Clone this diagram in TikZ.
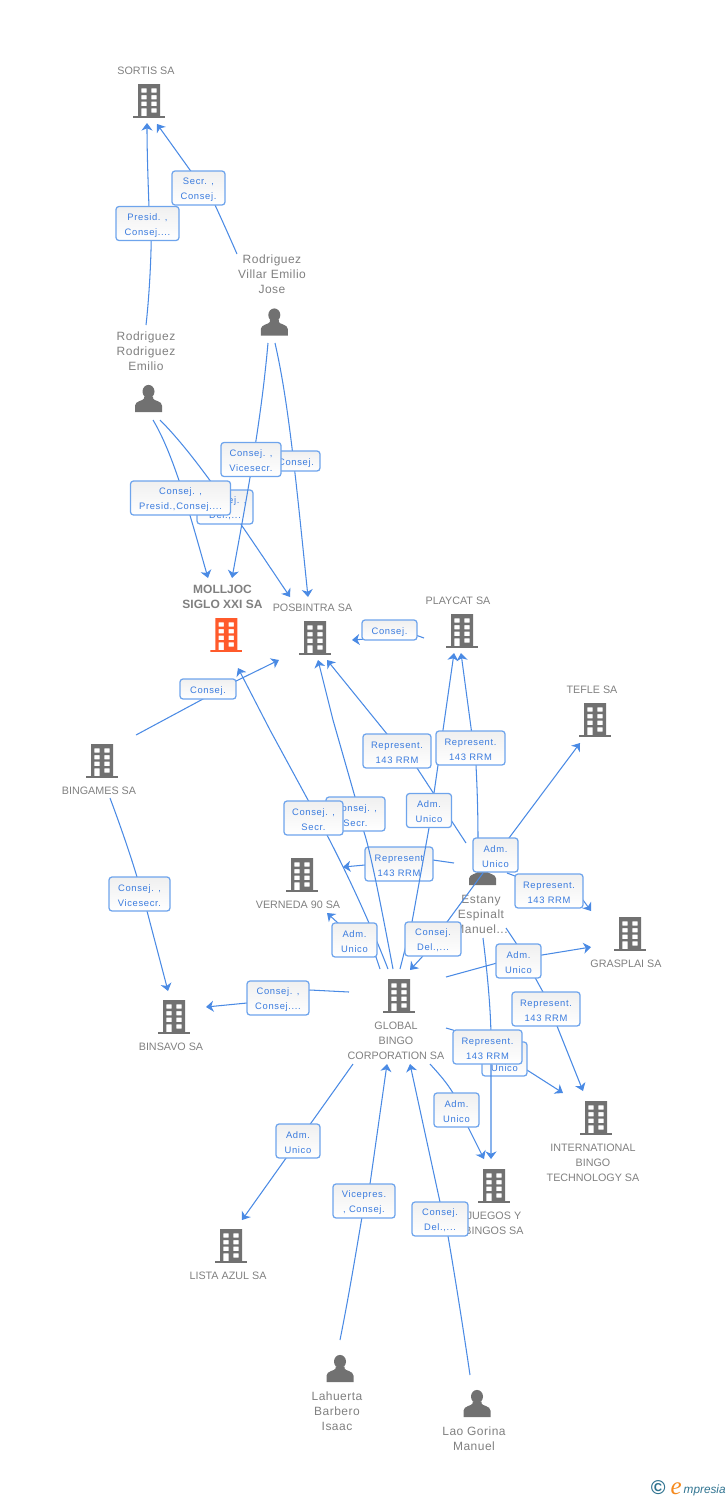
\documentclass[tikz,border=0pt]{standalone}
\usepackage{fontspec}
\setmainfont{Liberation Sans}
\newfontfamily\lblfont[LetterSpace=7]{Liberation Sans}
\newfontfamily\perfont[LetterSpace=4]{Liberation Sans}
\newfontfamily\logofont{Liberation Serif}
\usetikzlibrary{arrows.meta}
\definecolor{icongray}{HTML}{717171}
\definecolor{txtgray}{HTML}{808080}
\definecolor{hiorange}{HTML}{FF5A2B}
\definecolor{connblue}{HTML}{4A8AE4}
\definecolor{boxblue}{HTML}{6EA4EC}
\definecolor{lbltxt}{HTML}{3A7BDE}
\definecolor{logoteal}{HTML}{2F7390}
\definecolor{logoorange}{HTML}{F58A1F}
\tikzset{
  x=1pt,y=-1pt,
  conn/.style={draw=connblue,line width=1.05pt,-{Stealth[length=7.5pt,width=11pt,inset=2.2pt]}},
  lblbase/.style={draw=boxblue,line width=1.25pt,rounded corners=3pt,top color=black!6,bottom color=white,
    inner sep=0pt,align=center,text=lbltxt,
    font=\lblfont\fontsize{9.4}{15}\selectfont},
  lbl/.style={lblbase,minimum height=34pt,execute at begin node={\rule{0pt}{25pt}}},
  lblone/.style={lblbase,minimum height=20pt,execute at begin node={\rule{0pt}{10pt}}},
  comp/.style={inner sep=0pt,align=center,text=txtgray,font=\fontsize{10.75}{15}\selectfont},
  pers/.style={inner sep=0pt,align=center,text=txtgray,font=\perfont\fontsize{12}{15}\selectfont},
  bldg/.style={minimum width=32pt,minimum height=34pt,inner sep=0pt,path picture={
    \fill[#1,even odd rule] (-11,-17) rectangle (11,15.5)
      (-7.6,-12.7) rectangle (-2.4,-8.3) (2.4,-12.7) rectangle (7.6,-8.3)
      (-7.6,-6) rectangle (-2.4,-1.7) (2.4,-6) rectangle (7.6,-1.7)
      (-7.6,0.7) rectangle (-2.4,5) (2.4,0.7) rectangle (7.6,5)
      (-7.6,7.3) rectangle (-2.4,15.5) (2.4,7.3) rectangle (7.6,11.7);
    \fill[#1] (-16,15.3) rectangle (16,17);}},
  persn/.style={minimum width=28pt,minimum height=28pt,inner sep=0pt,path picture={
    \fill[icongray] (0,-7) ellipse [x radius=6,y radius=6.6];
    \fill[icongray] (-4.5,-2) -- (-4.5,0) .. controls (-5,2.2) and (-13.5,2.5) .. (-13.5,7)
      -- (-13.5,13.5) -- (13.5,13.5) -- (13.5,7)
      .. controls (13.5,2.5) and (5,2.2) .. (4.5,0) -- (4.5,-2) -- cycle;}}
}
\begin{document}
\begin{tikzpicture}
\useasboundingbox (0,0) rectangle (728,1500);
% ---- entities
\node[bldg=icongray] (sortis) at (149,101) {};
\node[comp] (sortisT) at (146,70.5) {SORTIS SA};
\node[persn] (jose) at (274.3,322) {};
\node[pers] (joseT) at (272,274) {Rodriguez\\Villar Emilio\\Jose};
\node[persn] (emilio) at (148.5,398.5) {};
\node[pers] (emilioT) at (146,351) {Rodriguez\\Rodriguez\\Emilio};
\node[bldg=hiorange] (molljoc) at (226.3,635) {};
\node[comp,font=\bfseries\fontsize{12}{15}\selectfont] (molljocT) at (222.5,596.5) {MOLLJOC\\SIGLO XXI SA};
\node[bldg=icongray] (posbintra) at (315,638) {};
\node[comp] (posbintraT) at (312.5,607.5) {POSBINTRA SA};
\node[bldg=icongray] (playcat) at (462,631) {};
\node[comp] (playcatT) at (458,600.5) {PLAYCAT SA};
\node[bldg=icongray] (tefle) at (595,720) {};
\node[comp] (tefleT) at (592,689.5) {TEFLE SA};
\node[bldg=icongray] (bingames) at (102,761) {};
\node[comp] (bingamesT) at (99,790.5) {BINGAMES SA};
\node[bldg=icongray] (verneda) at (302,875) {};
\node[comp] (vernedaT) at (298,904.5) {VERNEDA 90 SA};
\node[persn] (estany) at (482.6,871.5) {};
\node[pers] (estanyT) at (481,914) {Estany\\Espinalt\\Manuel...};
\node[bldg=icongray] (grasplai) at (630,934) {};
\node[comp] (grasplaiT) at (626,963.5) {GRASPLAI SA};
\node[bldg=icongray] (global) at (399,996) {};
\node[comp] (globalT) at (396,1040.5) {GLOBAL\\BINGO\\CORPORATION SA};
\node[bldg=icongray] (binsavo) at (174,1017) {};
\node[comp] (binsavoT) at (171,1046.5) {BINSAVO SA};
\node[bldg=icongray] (intl) at (596,1118) {};
\node[comp] (intlT) at (593,1162.5) {INTERNATIONAL\\BINGO\\TECHNOLOGY SA};
\node[bldg=icongray] (juegos) at (494,1186) {};
\node[comp] (juegosT) at (494,1223) {JUEGOS Y\\BINGOS SA};
\node[bldg=icongray] (lista) at (231,1246) {};
\node[comp] (listaT) at (228,1275.5) {LISTA AZUL SA};
\node[persn] (lahuerta) at (340,1368.5) {};
\node[pers] (lahuertaT) at (337,1411) {Lahuerta\\Barbero\\Isaac};
\node[persn] (lao) at (477,1403.5) {};
\node[pers] (laoT) at (474,1438.5) {Lao Gorina\\Manuel};
% ---- connector ends
\coordinate (emilioOutA) at (146,325);
\coordinate (emilioOutB) at (153,420);
\coordinate (emilioOutC) at (160,420);
\coordinate (joseOutA) at (237,254);
\coordinate (joseOutB) at (268,343);
\coordinate (joseOutC) at (275,343);
\coordinate (sortisInA) at (147,123);
\coordinate (sortisInB) at (157,124);
\coordinate (molljocInA) at (208,578);
\coordinate (molljocInB) at (232,578);
\coordinate (molljocInC) at (238,668);
\coordinate (posInA) at (290,597);
\coordinate (posInB) at (308,597);
\coordinate (posInC) at (352,640);
\coordinate (posInD) at (279,660);
\coordinate (posInE) at (318,660);
\coordinate (posInF) at (327,660);
\coordinate (playOut) at (424,638);
\coordinate (playInA) at (454,653);
\coordinate (playInB) at (461,653);
\coordinate (bingOutA) at (136,735);
\coordinate (bingOutB) at (110,798);
\coordinate (binsInA) at (168,991);
\coordinate (binsInB) at (206,1007);
\coordinate (globOutA) at (380,969);
\coordinate (globOutB) at (388,969);
\coordinate (globOutC) at (393,969);
\coordinate (globOutD) at (400,969);
\coordinate (globOutE) at (349,992);
\coordinate (globOutF) at (353,1064);
\coordinate (globOutG) at (446,977);
\coordinate (globOutH) at (446,1028);
\coordinate (globOutI) at (430,1064);
\coordinate (globInA) at (410,970);
\coordinate (globInB) at (387,1064);
\coordinate (globInC) at (410,1064);
\coordinate (estOutA) at (466,843);
\coordinate (estOutB) at (478,840);
\coordinate (estOutC) at (454,863);
\coordinate (estOutD) at (497,856);
\coordinate (estOutE) at (507,873);
\coordinate (estOutF) at (483,873);
\coordinate (estOutG) at (483,938);
\coordinate (estOutH) at (506,928);
\coordinate (vernInA) at (343,867);
\coordinate (vernInB) at (327,913);
\coordinate (tefleIn) at (580,743);
\coordinate (graspInA) at (591,911);
\coordinate (graspInB) at (591,947);
\coordinate (juegInA) at (484,1159);
\coordinate (juegInB) at (491,1159);
\coordinate (intlInA) at (563,1093);
\coordinate (intlInB) at (583,1091);
\coordinate (listaIn) at (242,1220);
\coordinate (lahOut) at (340,1340);
\coordinate (laoOut) at (470,1375);
% ---- connectors with their labels, in stacking order
\draw[conn] (emilioOutA) .. controls (150,290) and (152,240) .. (151,223) -- (149,207) .. controls (148,180) and (147,150) .. (sortisInA);
\node[lbl,minimum width=63pt] (l1) at (147.5,223.5) {Presid. ,\\Consej....};
\draw[conn] (joseOutA) .. controls (230,238) and (222,220) .. (215,205) -- (190,170) -- (sortisInB);
\node[lbl,minimum width=53pt] (l2) at (198.5,188) {Secr. ,\\Consej.};
\draw[conn] (emilioOutC) .. controls (195,455) and (235,515) .. (posInA);
\node[lbl,minimum width=56pt] (l4) at (225,507) {Consej. ,\\Del.,...};
\draw[conn] (joseOutC) .. controls (288,400) and (295,470) .. (posInB);
\node[lblone,minimum width=48pt] (l6) at (296,461) {Consej.};
\draw[conn] (emilioOutB) .. controls (174,455) and (190,515) .. (molljocInA);
\node[lbl,minimum width=100pt] (l3) at (180.5,498) {Consej. ,\\Presid.,Consej....};
\draw[conn] (joseOutB) .. controls (262,410) and (252,470) .. (molljocInB);
\node[lbl,minimum width=60pt] (l5) at (251,459.5) {Consej. ,\\Vicesecr.};
\draw[conn] (playOut) -- (417,635.5) -- (posInC);
\node[lblone,minimum width=55pt] (l7) at (389.5,630) {Consej.};
\draw[conn] (bingOutA) -- (203,699) -- (230,684) -- (posInD);
\node[lblone,minimum width=56pt] (l8) at (208,689) {Consej.};
\draw[conn] (bingOutB) .. controls (122,830) and (132,860) .. (137,877) -- (147,911) -- (binsInA);
\node[lbl,minimum width=61pt] (l9) at (139.5,894) {Consej. ,\\Vicesecr.};
\draw[conn] (estOutC) -- (433,860) -- (365,865) -- (vernInA);
\node[lbl,minimum width=68pt] (l10) at (399,864) {Represent\\143 RRM};
\draw[conn] (globOutC) .. controls (380,900) and (370,850) .. (364,832) -- (355,797) -- (333,720) -- (posInE);
\node[lbl,minimum width=59pt] (l11) at (355.5,814) {Consej. ,\\Secr.};
\draw[conn] (globOutB) .. controls (365,910) and (340,860) .. (327,835) -- (308,800) -- (270,730) -- (molljocInC);
\node[lbl,minimum width=59pt] (l12) at (313.5,818) {Consej. ,\\Secr.};
\draw[conn] (estOutA) -- (417,768) -- (387,734) -- (posInF);
\node[lbl,minimum width=68pt] (l13) at (397,751) {Represent.\\143 RRM};
\draw[conn] (globOutD) -- (412,922) -- (429,828) -- (438,765) -- (playInA);
\node[lbl,minimum width=45pt] (l14) at (429,810.5) {Adm.\\Unico};
\draw[conn] (estOutB) .. controls (478,810) and (477,785) .. (476,765) -- (470,720) -- (playInB);
\node[lbl,minimum width=69pt] (l15) at (470.5,748) {Represent.\\143 RRM};
\draw[conn] (estOutD) -- (509,838) -- (tefleIn);
\node[lbl,minimum width=45pt] (l16) at (495.5,855) {Adm.\\Unico};
\draw[conn] (estOutE) -- (515,876) -- (583,900) -- (graspInA);
\node[lbl,minimum width=68pt] (l17) at (549,891) {Represent.\\143 RRM};
\draw[conn] (globOutA) -- (376,957) -- (338,923) -- (vernInB);
\node[lbl,minimum width=45pt] (l18) at (354.5,940) {Adm.\\Unico};
\draw[conn] (estOutF) -- (447,922) -- (422,957) -- (globInA);
\node[lbl,minimum width=56pt] (l19) at (433,939) {Consej.\\Del.,...};
\draw[conn] (estOutH) -- (516,943) -- (543,992) -- (557,1026) -- (intlInB);
\node[lbl,minimum width=68pt] (l20) at (546,1009) {Represent.\\143 RRM};
\draw[conn] (globOutG) -- (497,963) -- (542,955) -- (graspInB);
\node[lbl,minimum width=45pt] (l21) at (518.5,961) {Adm.\\Unico};
\draw[conn] (globOutE) -- (310,990) -- (247,1003) -- (binsInB);
\node[lbl,minimum width=62pt] (l22) at (278,998) {Consej. ,\\Consej....};
\draw[conn] (globOutH) -- (453,1030) -- (527,1070) -- (intlInA);
\node[lbl,minimum width=45pt] (l23) at (504.5,1059) {Adm.\\Unico};
\draw[conn] (estOutG) .. controls (487,970) and (491,1010) .. (491,1040) -- (juegInB);
\node[lbl,minimum width=69pt] (l24) at (487.5,1047) {Represent.\\143 RRM};
\draw[conn] (globOutI) .. controls (440,1075) and (447,1083) .. (453,1093) -- (468,1127) -- (juegInA);
\node[lbl,minimum width=45pt] (l25) at (456.5,1110) {Adm.\\Unico};
\draw[conn] (globOutF) -- (listaIn);
\node[lbl,minimum width=44pt] (l26) at (298,1141) {Adm.\\Unico};
\draw[conn] (lahOut) .. controls (350,1290) and (358,1240) .. (362,1217) -- (370,1184) -- (globInB);
\node[lbl,minimum width=62pt] (l27) at (364,1201) {Vicepres.\\, Consej.};
\draw[conn] (laoOut) .. controls (462,1320) and (453,1265) .. (448,1236) -- (440,1202) -- (globInC);
\node[lbl,minimum width=56pt] (l28) at (440,1219) {Consej.\\Del.,...};
% ---- logo
\node[inner sep=0pt,text=logoteal,font=\bfseries\fontsize{20}{20}\selectfont] (logoC) at (658.3,1488) {\textcopyright};
\node[inner sep=0pt,anchor=base west,text=logoorange,font=\logofont\itshape\fontsize{25}{25}\selectfont] (logoE) at (670.5,1494) {e};
\node[inner sep=0pt,anchor=base west,text=logoteal,font=\itshape\fontsize{11.8}{11.8}\selectfont] (logoM) at (683.5,1493.5) {mpresia};
\end{tikzpicture}
\end{document}
